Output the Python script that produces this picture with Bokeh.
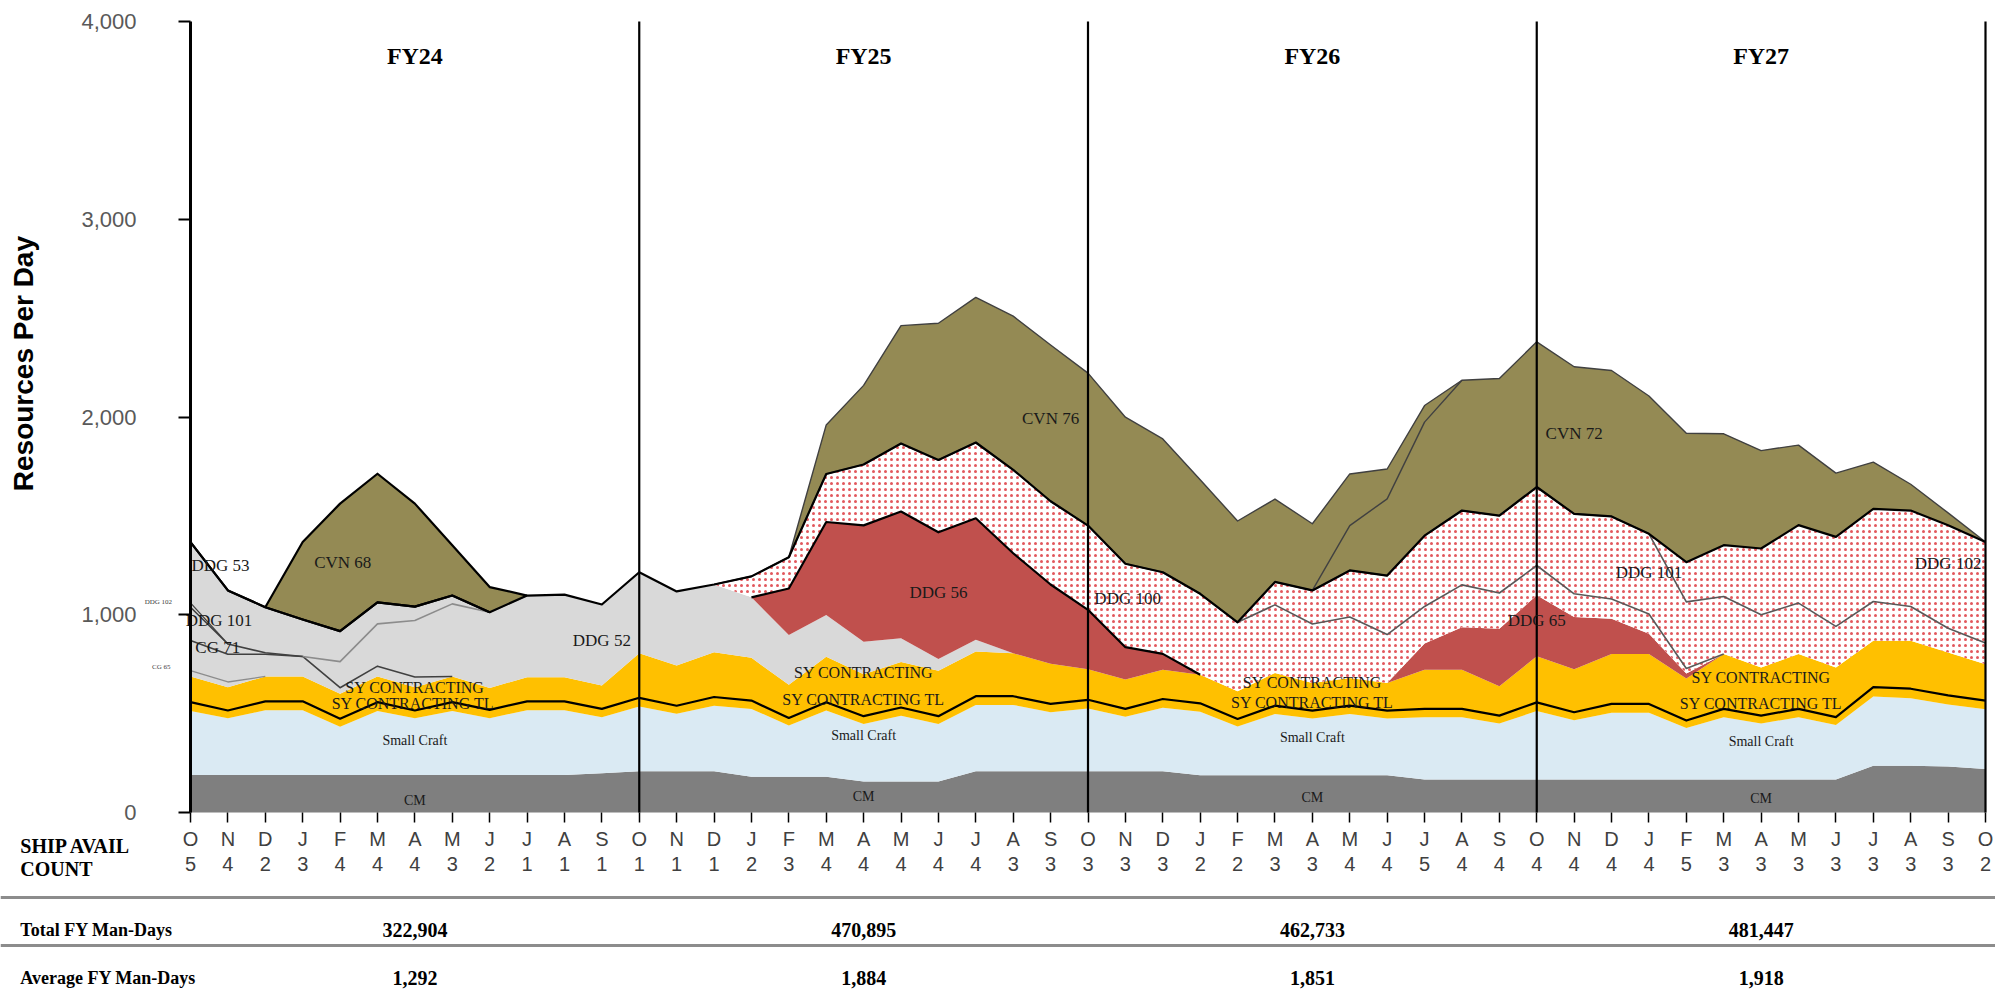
import math
import numpy as np
from bokeh.plotting import figure
from bokeh.models import LinearAxis, FixedTicker, Range1d, NumeralTickFormatter, Span
from bokeh.core.properties import value
from bokeh.embed import file_html
from bokeh.resources import INLINE

# ---------------- data ----------------
months = ["O", "N", "D", "J", "F", "M", "A", "M", "J", "J", "A", "S"] * 4 + ["O"]
avail_count = [5, 4, 2, 3, 4, 4, 4, 3, 2, 1, 1, 1,
               1, 1, 1, 2, 3, 4, 4, 4, 4, 4, 3, 3,
               3, 3, 3, 2, 2, 3, 3, 4, 4, 5, 4, 4,
               4, 4, 4, 4, 5, 3, 3, 3, 3, 3, 3, 3,
               2]
fiscal_years = ["FY24", "FY25", "FY26", "FY27"]
total_man_days = ["322,904", "470,895", "462,733", "481,447"]
avg_man_days = ["1,292", "1,884", "1,851", "1,918"]

cm = [190, 190, 190, 190, 190, 190, 190, 190, 190, 190, 190, 198,
      208, 208, 208, 181, 181, 181, 157, 157, 157, 208, 208, 208,
      208, 208, 208, 188, 188, 188, 188, 188, 188, 167, 167, 167,
      167, 167, 167, 167, 167, 167, 167, 167, 167, 236, 236, 232,
      220]
small_craft = [323, 286, 327, 327, 244, 323, 286, 323, 287, 327, 327, 284,
               328, 292, 332, 343, 259, 335, 290, 332, 290, 336, 336, 299,
               318, 276, 322, 322, 247, 310, 287, 310, 287, 315, 315, 283,
               346, 300, 338, 338, 260, 315, 283, 315, 275, 350, 342, 314,
               302]
sy_contracting_tl = [45, 40, 45, 45, 40, 45, 40, 45, 42, 45, 45, 42,
                     44, 40, 44, 42, 38, 42, 40, 42, 40, 44, 44, 42,
                     44, 40, 44, 42, 38, 42, 40, 42, 40, 42, 42, 40,
                     44, 40, 44, 44, 38, 42, 40, 42, 40, 48, 48, 46,
                     44]
sy_contracting = [130, 118, 126, 126, 126, 130, 118, 130, 111, 122, 122, 118,
                  225, 203, 226, 216, 168, 229, 212, 230, 230, 226, 217, 203,
                  155, 148, 148, 145, 140, 166, 140, 140, 140, 198, 198, 148,
                  233, 218, 252, 252, 213, 277, 243, 277, 251, 234, 242, 217,
                  184]
cg65 = [30, 26] + [0] * 47
cg71 = [152, 140, 112, 101, 31, 52, 51] + [0] * 42
ddg101_fy24 = [168, 52, 8] + [0] * 46
ddg52 = [0, 0, 0, 0, 132, 214, 286, 367, 383, 413, 418, 410,
         410, 375, 343, 306, 252, 212, 165, 120, 59, 59] + [0] * 27
ddg102_fy24 = [22] + [0] * 48
ddg53 = [307, 271, 230, 187, 154, 109, 70, 42] + [0] * 41
ddg56 = [0] * 16 + [235, 470, 588, 641, 641, 615, 506, 401, 300, 164, 80] + [0] * 22
ddg65 = [0] * 33 + [133, 215, 291, 308, 263, 179, 103, 25] + [0] * 8
ddg100 = [0] * 15 + [106, 158, 243, 308, 344, 366, 383, 422, 421,
                     426, 422, 413, 409, 349, 344, 298, 309, 245, 187, 214, 181,
                     151, 118, 100, 100, 25] + [0] * 8
ddg101_fy27 = [0] * 29 + [116, 170, 235, 298, 358, 376, 391,
                          397, 404, 417, 405, 337, 291, 267, 258, 208, 199, 174, 123,
                          107]
ddg102_fy27 = [0] * 40 + [201, 260, 335, 394, 453, 468, 485, 521, 511]
cvn68 = [0, 0, 0, 392, 645, 650, 521, 254, 127] + [0] * 40
cvn72 = [0] * 31 + [227, 388, 574, 659, 694,
                    734, 744, 738, 697, 652, 563, 495, 405, 322, 237, 133, 62,
                    0]
cvn76 = [0] * 17 + [248, 400, 596, 691, 734, 777, 790,
                    771, 741, 674, 577, 512, 419, 337, 261, 151, 84] + [0] * 15

# ---------------- styles ----------------
GRAY = "#d9d9d9"
RED = "#c0504d"
OLIVE = "#948a54"
YEL = "#ffc000"
# (name, values, fill, dotted, line_color, line_width, line index range)
layers = [
    ("CM", cm, "#7f7f7f", False, None, 0, None),
    ("Small Craft", small_craft, "#daeaf3", False, None, 0, None),
    ("SY CONTRACTING TL", sy_contracting_tl, YEL, False, "black", 2.2, (0, 48)),
    ("SY CONTRACTING", sy_contracting, YEL, False, None, 0, None),
    ("CG 65", cg65, GRAY, False, "#8c8c8c", 1.3, None),
    ("CG 71", cg71, GRAY, False, "#404040", 1.6, None),
    ("DDG 101 (FY24)", ddg101_fy24, GRAY, False, "#404040", 1.6, None),
    ("DDG 52", ddg52, GRAY, False, "#8c8c8c", 1.6, (0, 9)),
    ("DDG 102 (FY24)", ddg102_fy24, GRAY, False, "#404040", 1.2, None),
    ("DDG 53", ddg53, GRAY, False, "black", 2.2, None),
    ("DDG 56", ddg56, RED, False, "black", 2.2, None),
    ("DDG 65", ddg65, RED, False, None, 0, None),
    ("DDG 100", ddg100, "white", True, "#595959", 1.6, None),
    ("DDG 101", ddg101_fy27, "white", True, "#595959", 1.6, None),
    ("DDG 102", ddg102_fy27, "white", True, None, 0, None),
    ("CVN 68", cvn68, OLIVE, False, "black", 2.2, None),
    ("CVN 72", cvn72, OLIVE, False, "#404040", 1.4, None),
    ("CVN 76", cvn76, OLIVE, False, "#404040", 1.4, None),
]

N = len(months)
x = np.arange(N)

# canvas mapping: idx 0 -> x 190, idx 48 -> x 1985 ; value 0 -> y 812, 4000 -> y 21
W, H = 1995, 994
px_x = 1795 / 48.0
px_y = 791 / 4000.0
x0 = -190 / px_x
x1 = 48 + (W - 1985) / px_x
y1 = 4000 + 21 / px_y
y0 = -(H - 812) / px_y

p = figure(width=W, height=H, x_range=Range1d(x0, x1), y_range=Range1d(y0, y1),
           output_backend="svg", toolbar_location=None,
           x_axis_type=None, y_axis_type=None, min_border=0,
           outline_line_color=None, background_fill_color="white",
           border_fill_color="white")
p.title.visible = False


def runs(vals, top, rng):
    lo, hi = rng if rng else (0, N - 1)
    xs_l, ys_l, cx, cy = [], [], [], []
    for i in range(N - 1):
        draw = (vals[i] > 0 or vals[i + 1] > 0) and i >= lo and i + 1 <= hi
        if draw:
            if not cx:
                cx, cy = [i], [float(top[i])]
            cx.append(i + 1)
            cy.append(float(top[i + 1]))
        elif cx:
            xs_l.append(cx); ys_l.append(cy); cx, cy = [], []
    if cx:
        xs_l.append(cx); ys_l.append(cy)
    return xs_l, ys_l


base = np.zeros(N)
line_jobs = []
envelope = None
for name, vals, fill, dotted, lc, lw, rng in layers:
    v = np.array(vals, dtype=float)
    top = base + v
    kw = dict(fill_color=fill)
    if dotted:
        kw.update(hatch_pattern="dot", hatch_color="#e2585d", hatch_scale=6, hatch_weight=1.0)
    p.varea(x=x, y1=base, y2=top, **kw)
    if lc:
        line_jobs.append((vals, top.copy(), lc, lw, rng))
    base = top
    if name == "DDG 102":
        envelope = top.copy()

for vals, top, lc, lw, rng in line_jobs:
    xs_l, ys_l = runs(vals, top, rng)
    if xs_l:
        p.multi_line(xs=xs_l, ys=ys_l, line_color=lc, line_width=lw, line_join="round")

# black envelope under the carriers
p.line(x=x, y=envelope, line_color="black", line_width=2.2, line_join="round")

# fiscal year dividers
p.segment(x0=[12, 24, 36, 48], y0=[0] * 4, x1=[12, 24, 36, 48], y1=[4000] * 4,
          line_color="black", line_width=2.2)

# y axis
yax = LinearAxis(fixed_location=0, bounds=(0, 4000),
                 ticker=FixedTicker(ticks=[0, 1000, 2000, 3000, 4000], minor_ticks=[]),
                 formatter=NumeralTickFormatter(format="0,0"))
yax.axis_line_width = 3
yax.axis_line_color = "black"
yax.major_tick_out = 12
yax.major_tick_in = 0
yax.major_tick_line_width = 2
yax.minor_tick_out = 0
yax.minor_tick_in = 0
yax.major_label_standoff = 42
yax.major_label_text_font = "Liberation Sans"
yax.major_label_text_font_size = "22px"
yax.major_label_text_color = "#595959"
p.add_layout(yax, "left")

# month axis
mtick = FixedTicker(ticks=list(range(N)), minor_ticks=[])
xax = LinearAxis(fixed_location=0, ticker=mtick,
                 major_label_overrides={i: months[i] for i in range(N)})
xax.axis_line_color = None
xax.major_tick_out = 10
xax.major_tick_in = 0
xax.major_tick_line_width = 1.5
xax.major_label_standoff = 5
xax.major_label_text_font = "Liberation Sans"
xax.major_label_text_font_size = "20px"
xax.major_label_text_color = "#404040"
p.add_layout(xax, "below")

# count axis
cax = LinearAxis(fixed_location=-194, ticker=FixedTicker(ticks=list(range(N)), minor_ticks=[]),
                 major_label_overrides={i: str(avail_count[i]) for i in range(N)})
cax.axis_line_color = None
cax.major_tick_line_color = None
cax.major_tick_out = 0
cax.major_tick_in = 0
cax.major_label_standoff = 6
cax.major_label_text_font = "Liberation Sans"
cax.major_label_text_font_size = "20px"
cax.major_label_text_color = "#404040"
p.add_layout(cax, "below")

# y axis title
p.text(x=[-4.47], y=[2270], text=["Resources Per Day"], angle=math.pi / 2,
       text_align="center", text_baseline="middle",
       text_font=value("Liberation Sans"), text_font_style="bold",
       text_font_size="28px", text_color="black")

# fiscal-year headers
fy_x = [6, 18, 30, 42]
p.text(x=fy_x, y=[3828] * 4, text=fiscal_years, text_align="center", text_baseline="middle",
       text_font=value("Liberation Serif"), text_font_style="bold", text_font_size="24px",
       text_color="black")

# series labels
big = [("DDG 53", 0.80, 1249), ("DDG 101", 0.76, 971), ("CG 71", 0.73, 835),
       ("CVN 68", 4.07, 1264), ("DDG 52", 11.0, 870), ("DDG 56", 20.0, 1115),
       ("CVN 76", 23.0, 1992), ("DDG 100", 25.06, 1082), ("DDG 65", 36.0, 971),
       ("CVN 72", 37.0, 1917), ("DDG 101", 39.0, 1214), ("DDG 102", 47.0, 1259)]
p.text(x=[b[1] for b in big], y=[b[2] for b in big], text=[b[0] for b in big],
       text_align="center", text_baseline="middle", text_font=value("Liberation Serif"),
       text_font_size="17px", text_color="#1a1a1a")

sy = [(6.0, 632), (18.0, 708), (30.0, 657), (42.0, 683)]
p.text(x=[s[0] for s in sy], y=[s[1] for s in sy], text=["SY CONTRACTING"] * 4,
       text_align="center", text_baseline="middle", text_font=value("Liberation Serif"),
       text_font_size="16px", text_color="#1a1a1a")
sytl = [(5.95, 551), (18.0, 571), (30.0, 556), (42.0, 551)]
p.text(x=[s[0] for s in sytl], y=[s[1] for s in sytl], text=["SY CONTRACTING TL"] * 4,
       text_align="center", text_baseline="middle", text_font=value("Liberation Serif"),
       text_font_size="16px", text_color="#1a1a1a")
sc = [(6.0, 364), (18.0, 389), (30.0, 380), (42.0, 359)]
p.text(x=[s[0] for s in sc], y=[s[1] for s in sc], text=["Small Craft"] * 4,
       text_align="center", text_baseline="middle", text_font=value("Liberation Serif"),
       text_font_size="14px", text_color="#1a1a1a")
cml = [(6.0, 61), (18.0, 81), (30.0, 76), (42.0, 71)]
p.text(x=[s[0] for s in cml], y=[s[1] for s in cml], text=["CM"] * 4,
       text_align="center", text_baseline="middle", text_font=value("Liberation Serif"),
       text_font_size="14px", text_color="#1a1a1a")
p.text(x=[-0.86, -0.78], y=[1062, 738], text=["DDG 102", "CG 65"],
       text_align="center", text_baseline="middle", text_font=value("Liberation Serif"),
       text_font_size="7px", text_color="#404040")

# table
for loc in (-430, -673):
    p.add_layout(Span(location=loc, dimension="width", line_color="#8c8c8c", line_width=3))

left_x = -4.55
p.text(x=[left_x, left_x], y=[-167, -288], text=["SHIP AVAIL", "COUNT"],
       text_align="left", text_baseline="middle", text_font=value("Liberation Serif"),
       text_font_style="bold", text_font_size="20px", text_color="black")
p.text(x=[left_x, left_x], y=[-595, -836], text=["Total FY Man-Days", "Average FY Man-Days"],
       text_align="left", text_baseline="middle", text_font=value("Liberation Serif"),
       text_font_style="bold", text_font_size="18px", text_color="black")
p.text(x=fy_x, y=[-595] * 4, text=total_man_days, text_align="center", text_baseline="middle",
       text_font=value("Liberation Serif"), text_font_style="bold", text_font_size="20px",
       text_color="black")
p.text(x=fy_x, y=[-836] * 4, text=avg_man_days, text_align="center", text_baseline="middle",
       text_font=value("Liberation Serif"), text_font_style="bold", text_font_size="20px",
       text_color="black")

open("out.html", "w").write(file_html(p, INLINE))
